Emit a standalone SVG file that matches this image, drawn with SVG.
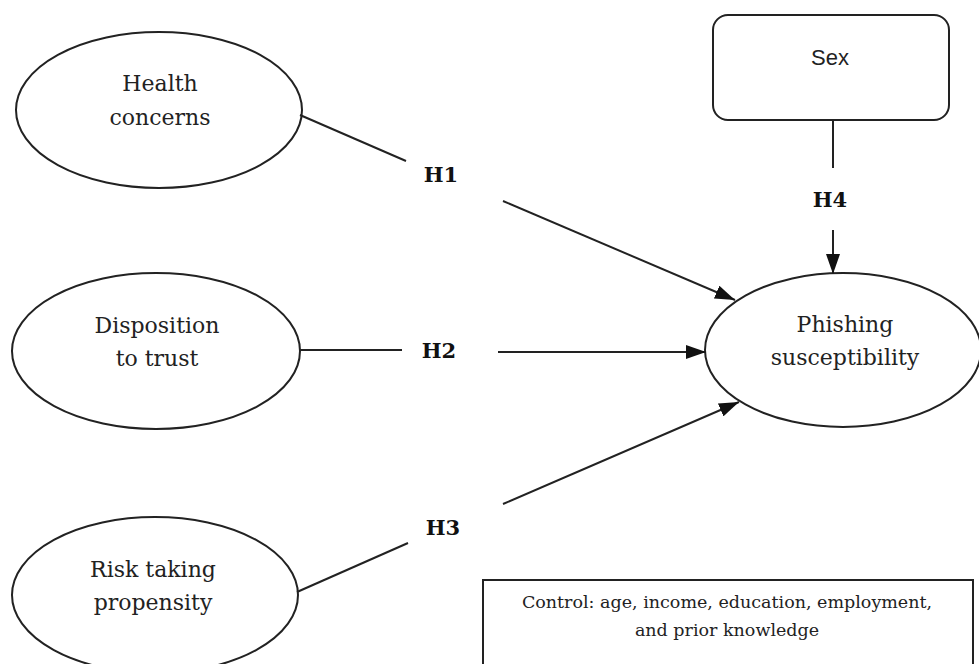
<svg xmlns="http://www.w3.org/2000/svg" width="979" height="664" viewBox="0 0 979 664">
<defs>
<marker id="arr" markerWidth="20" markerHeight="14" refX="20" refY="7" orient="auto" markerUnits="userSpaceOnUse">
<path d="M0,0 L20,7 L0,14 Z" fill="#111"/>
</marker>
<style>
.shape{fill:#fff;stroke:#222;stroke-width:2}
.lbl{font-family:"DejaVu Serif",serif;font-size:22px;fill:#222;text-anchor:middle}
.h{font-family:"DejaVu Serif",serif;font-size:21px;font-weight:bold;fill:#111;text-anchor:middle}
.ln{stroke:#222;stroke-width:2;fill:none}
.ctl{font-family:"DejaVu Serif",serif;font-size:17.5px;fill:#222;text-anchor:middle}
</style>
</defs>
<rect width="979" height="664" fill="#fff"/>
<g id="health">
<ellipse class="shape" cx="159" cy="110" rx="143" ry="78"/>
<text class="lbl" x="160" y="91">Health</text>
<text class="lbl" x="160" y="125">concerns</text>
</g>
<g id="trust">
<ellipse class="shape" cx="156" cy="351" rx="144" ry="78"/>
<text class="lbl" x="157" y="333">Disposition</text>
<text class="lbl" x="157" y="366">to trust</text>
</g>
<g id="risk">
<ellipse class="shape" cx="155" cy="595" rx="143" ry="78"/>
<text class="lbl" x="153" y="577">Risk taking</text>
<text class="lbl" x="153" y="610">propensity</text>
</g>
<g id="phishing">
<ellipse class="shape" cx="843" cy="350" rx="138" ry="77"/>
<text class="lbl" x="845" y="332">Phishing</text>
<text class="lbl" x="845" y="365">susceptibility</text>
</g>
<g id="sex">
<rect class="shape" x="713" y="15" width="236" height="105" rx="15"/>
<text x="830" y="65" font-family="Liberation Sans, sans-serif" font-size="22" fill="#222" text-anchor="middle">Sex</text>
</g>
<g id="control">
<rect class="shape" x="483" y="580" width="490" height="100"/>
<text class="ctl" x="727" y="608">Control: age, income, education, employment,</text>
<text class="ctl" x="727" y="636">and prior knowledge</text>
</g>
<g id="connectors">
<line class="ln" x1="300" y1="115" x2="406" y2="161"/>
<line class="ln" x1="503" y1="201" x2="735" y2="300" marker-end="url(#arr)"/>
<text class="h" x="441" y="182">H1</text>
<line class="ln" x1="300" y1="350" x2="402" y2="350"/>
<line class="ln" x1="498" y1="352" x2="706" y2="352" marker-end="url(#arr)"/>
<text class="h" x="439" y="358">H2</text>
<line class="ln" x1="297" y1="592" x2="408" y2="543"/>
<line class="ln" x1="503" y1="504" x2="739" y2="402" marker-end="url(#arr)"/>
<text class="h" x="443" y="535">H3</text>
<line class="ln" x1="833" y1="120" x2="833" y2="168"/>
<line class="ln" x1="833" y1="230" x2="833" y2="274" marker-end="url(#arr)"/>
<text class="h" x="830" y="207">H4</text>
</g>
</svg>
